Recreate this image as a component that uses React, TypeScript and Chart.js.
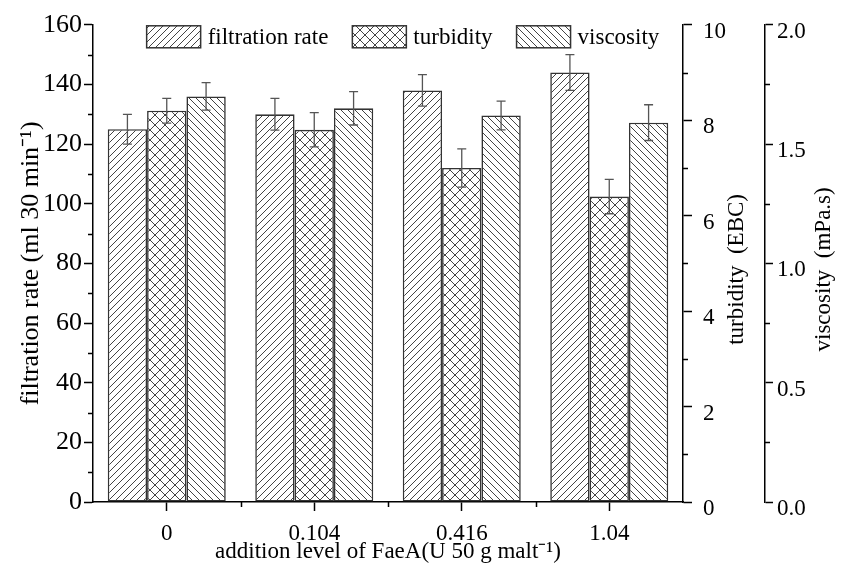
import React, { useEffect, useRef } from 'react';
import { Chart, registerables } from 'chart.js';

Chart.register(...registerables);

const categories = ['0', '0.104', '0.416', '1.04'];
const seriesLabels = ['filtration rate', 'turbidity', 'viscosity'];
const filtrationRate = [125, 130, 138, 144];
const filtrationErr = [5, 5.3, 5.3, 6];
const turbidity = [8.2, 7.8, 7.0, 6.4];
const turbidityErr = [0.26, 0.36, 0.4, 0.36];
const viscosity = [1.7, 1.65, 1.62, 1.59];
const viscosityErr = [0.058, 0.07, 0.06, 0.075];

const leftRange = [0, 160, 20];
const turbRange = [0, 10, 2];
const viscRange = [0, 2, 0.5];

const xTitle = 'addition level of FaeA(U 50 g malt\u207B\u00B9)';
const leftTitle = 'filtration rate (ml 30 min\u207B\u00B9)';
const turbTitle = 'turbidity  (EBC)';
const viscTitle = 'viscosity  (mPa.s)';

const FONT = '"Liberation Serif", "Times New Roman", serif';
const FS = 23;

function makeHatch(kind: string, size: number): CanvasPattern {
  const c = document.createElement('canvas');
  c.width = size;
  c.height = size;
  const g = c.getContext('2d')!;
  g.fillStyle = '#fff';
  g.fillRect(0, 0, size, size);
  g.strokeStyle = '#444';
  g.lineWidth = 1;
  g.beginPath();
  for (const k of [-size, 0, size]) {
    if (kind === 'fwd' || kind === 'cross') {
      g.moveTo(k, size);
      g.lineTo(k + size, 0);
    }
    if (kind === 'back' || kind === 'cross') {
      g.moveTo(k, 0);
      g.lineTo(k + size, size);
    }
  }
  g.stroke();
  return g.createPattern(c, 'repeat')!;
}

export default function App() {
  const ref = useRef<HTMLCanvasElement>(null);

  useEffect(() => {
    document.body.style.margin = '0';
    const canvas = ref.current!;
    const fwd = makeHatch('fwd', 7);
    const cross = makeHatch('cross', 10);
    const back = makeHatch('back', 7);
    const errs = [filtrationErr, turbidityErr, viscosityErr];

    const errorBars = {
      id: 'errorBars',
      afterDatasetsDraw(chart: any) {
        const ctx = chart.ctx;
        ctx.save();
        ctx.strokeStyle = '#555';
        ctx.lineWidth = 1.3;
        chart.data.datasets.forEach((ds: any, i: number) => {
          const meta = chart.getDatasetMeta(i);
          const sc = chart.scales[ds.yAxisID];
          meta.data.forEach((el: any, j: number) => {
            const v = ds.data[j];
            const e = errs[i][j];
            const yt = sc.getPixelForValue(v + e);
            const yb = sc.getPixelForValue(v - e);
            const x = el.x;
            ctx.beginPath();
            ctx.moveTo(x, yt);
            ctx.lineTo(x, yb);
            ctx.moveTo(x - 4.5, yt);
            ctx.lineTo(x + 4.5, yt);
            ctx.moveTo(x - 4.5, yb);
            ctx.lineTo(x + 4.5, yb);
            ctx.stroke();
          });
        });
        ctx.restore();
      },
    };

    const extras = {
      id: 'extras',
      afterDraw(chart: any) {
        const ctx = chart.ctx;
        const { x, y, y1, y2 } = chart.scales;
        const area = chart.chartArea;
        ctx.save();
        ctx.strokeStyle = '#000';
        ctx.lineWidth = 1.5;
        ctx.beginPath();
        for (let v = leftRange[0] + leftRange[2] / 2; v < leftRange[1]; v += leftRange[2]) {
          const p = Math.round(y.getPixelForValue(v)) + 0.5;
          ctx.moveTo(y.right, p);
          ctx.lineTo(y.right - 5, p);
        }
        for (let v = turbRange[0] + turbRange[2] / 2; v < turbRange[1]; v += turbRange[2]) {
          const p = Math.round(y1.getPixelForValue(v)) + 0.5;
          ctx.moveTo(y1.left, p);
          ctx.lineTo(y1.left + 5, p);
        }
        for (let v = viscRange[0] + viscRange[2] / 2; v < viscRange[1]; v += viscRange[2]) {
          const p = Math.round(y2.getPixelForValue(v)) + 0.5;
          ctx.moveTo(y2.left, p);
          ctx.lineTo(y2.left + 5, p);
        }
        for (let i = 0; i < categories.length - 1; i++) {
          const p = Math.round((x.getPixelForValue(i) + x.getPixelForValue(i + 1)) / 2) + 0.5;
          ctx.moveTo(p, x.top);
          ctx.lineTo(p, x.top + 5);
        }
        ctx.stroke();

        ctx.fillStyle = '#000';
        ctx.font = `${FS}px ${FONT}`;
        ctx.textAlign = 'center';
        ctx.textBaseline = 'middle';
        const cy = (area.top + area.bottom) / 2 + 6;
        ctx.save();
        ctx.translate(y1.left + 54, cy);
        ctx.rotate(-Math.PI / 2);
        ctx.fillText(turbTitle, 0, 0);
        ctx.restore();
        ctx.save();
        ctx.translate(y2.left + 59, cy);
        ctx.rotate(-Math.PI / 2);
        ctx.fillText(viscTitle, 0, 0);
        ctx.restore();

        const boxW = 54;
        const boxH = 22;
        const gapT = 7;
        const gapI = 24;
        const items = chart.data.datasets.map((ds: any) => ({
          label: ds.label,
          fill: ds.backgroundColor,
          w: ctx.measureText(ds.label).width,
        }));
        const total =
          items.reduce((s: number, it: any) => s + boxW + gapT + it.w, 0) + gapI * (items.length - 1);
        let lx = (area.left + area.right) / 2 + 15 - total / 2;
        const ly = area.top + 1;
        ctx.textAlign = 'left';
        items.forEach((it: any) => {
          ctx.fillStyle = it.fill;
          ctx.fillRect(lx, ly, boxW, boxH);
          ctx.strokeStyle = '#333';
          ctx.lineWidth = 1.5;
          ctx.strokeRect(lx, ly, boxW, boxH);
          ctx.fillStyle = '#000';
          ctx.fillText(it.label, lx + boxW + gapT, ly + boxH / 2 + 1);
          lx += boxW + gapT + it.w + gapI;
        });
        ctx.restore();
      },
    };

    const tickFont = { family: FONT, size: FS };
    const leftFont = { family: FONT, size: 26 };
    const grid = {
      display: true,
      drawOnChartArea: false,
      tickLength: 9,
      tickColor: '#000',
      tickWidth: 1.5,
    };
    const border = { display: true, color: '#000', width: 1.5 };

    const chart = new Chart(canvas, {
      type: 'bar',
      data: {
        labels: categories,
        datasets: [
          {
            label: seriesLabels[0],
            data: filtrationRate,
            yAxisID: 'y',
            backgroundColor: fwd,
            borderColor: '#333',
            borderWidth: 1.6,
            borderSkipped: false,
          },
          {
            label: seriesLabels[1],
            data: turbidity,
            yAxisID: 'y1',
            backgroundColor: cross,
            borderColor: '#333',
            borderWidth: 1.6,
            borderSkipped: false,
          },
          {
            label: seriesLabels[2],
            data: viscosity,
            yAxisID: 'y2',
            backgroundColor: back,
            borderColor: '#333',
            borderWidth: 1.6,
            borderSkipped: false,
          },
        ],
      },
      options: {
        responsive: false,
        animation: false,
        devicePixelRatio: 1,
        layout: { padding: { top: 20, left: 0, right: 0, bottom: 0 } },
        datasets: { bar: { categoryPercentage: 0.8, barPercentage: 1 } },
        plugins: { legend: { display: false }, tooltip: { enabled: false } },
        scales: {
          x: {
            type: 'category',
            offset: true,
            grid: { ...grid, offset: false },
            border,
            ticks: { color: '#000', font: tickFont, padding: 9, maxRotation: 0 },
            title: {
              display: true,
              text: xTitle,
              color: '#000',
              font: tickFont,
              padding: { top: 0, bottom: 7 },
            },
            afterFit: (s: any) => {
              s.height = 71;
            },
          },
          y: {
            position: 'left',
            min: leftRange[0],
            max: leftRange[1],
            grid,
            border,
            ticks: { stepSize: leftRange[2], color: '#000', font: leftFont, padding: 2 },
            title: {
              display: true,
              text: leftTitle,
              color: '#000',
              font: leftFont,
              padding: { top: 16, bottom: 0 },
            },
            afterFit: (s: any) => {
              s.width = 93;
            },
          },
          y1: {
            position: 'right',
            min: turbRange[0],
            max: turbRange[1],
            grid,
            border,
            ticks: {
              stepSize: turbRange[2],
              color: '#000',
              font: tickFont,
              padding: 11,
              labelOffset: 7,
            },
            afterFit: (s: any) => {
              s.width = 82;
            },
          },
          y2: {
            position: 'right',
            min: viscRange[0],
            max: viscRange[1],
            grid: { ...grid, tickLength: 8 },
            border,
            ticks: {
              stepSize: viscRange[2],
              color: '#000',
              font: tickFont,
              padding: 4,
              labelOffset: 7,
              callback: (v: any) => Number(v).toFixed(1),
            },
            afterFit: (s: any) => {
              s.width = 82;
            },
          },
        },
      },
      plugins: [errorBars, extras],
    } as any);

    return () => chart.destroy();
  }, []);

  return (
    <div style={{ width: 847, height: 573 }}>
      <canvas ref={ref} width={847} height={573} style={{ display: 'block' }} />
    </div>
  );
}
